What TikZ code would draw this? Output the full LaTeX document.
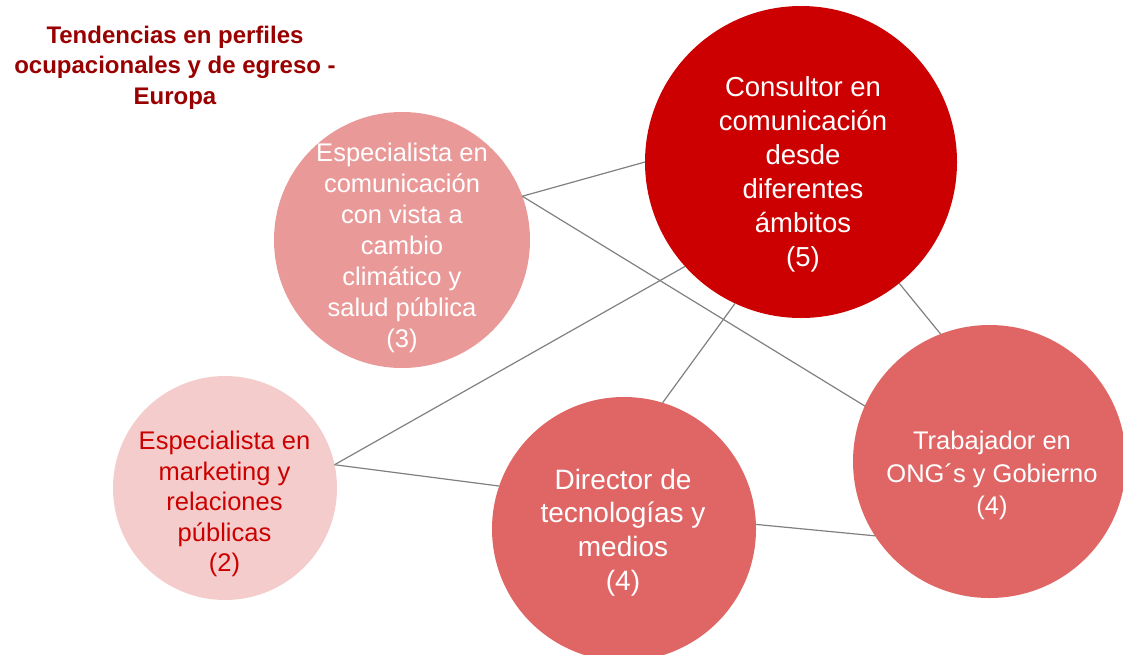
\documentclass[tikz,border=0pt]{standalone}
\usepackage{fontspec}
\setmainfont{Liberation Sans}
\definecolor{conred}{HTML}{CC0000}
\definecolor{compink}{HTML}{EA9999}
\definecolor{mkpink}{HTML}{F4CCCC}
\definecolor{midred}{HTML}{E06666}
\definecolor{titlered}{HTML}{990000}
\definecolor{linegray}{HTML}{808080}
\begin{document}
\begin{tikzpicture}[x=1pt,y=-1pt,
  bubble/.style={circle, inner sep=0pt, outer sep=0pt, minimum size=#1},
  link/.style={draw=linegray, line width=1.2pt},
  txt/.style={align=center, inner sep=0pt, text=white},
  bigfont/.style={font=\fontsize{27.5}{34}\selectfont},
  smallfont/.style={font=\fontsize{25.5}{31}\selectfont}]
\useasboundingbox (0,0) rectangle (1123,654);
% circles
\node[bubble=312pt, fill=conred] (con) at (801,162) {};
\node[bubble=256pt, fill=compink] (com) at (402,240) {};
\node[bubble=224pt, fill=mkpink] (mk) at (225,488) {};
\node[bubble=264pt, fill=midred] (dir) at (624,529) {};
\node[bubble=273pt, fill=midred] (tra) at (989.5,461.5) {};
% connectors
\draw[link] (com.20.6) -- (con.180.4);
\draw[link] (com.20.6) -- (tra.156.4);
\draw[link] (mk.12.8) -- (con.222.5);
\draw[link] (mk.12.8) -- (dir.161.6);
\draw[link] (dir.73.2) -- (con.245.5);
\draw[link] (dir.2.6) -- (tra.213.1);
\draw[link] (con.309.6) -- (tra.111.6);
% texts
\node[txt, bigfont] (conT) at (803,174) {Consultor en\\comunicación\\desde\\diferentes\\ámbitos\\(5)};
\node[txt, smallfont] (comT) at (402,247.5) {Especialista en\\comunicación\\con vista a\\cambio\\climático y\\salud pública\\(3)};
\node[txt, font=\fontsize{25.5}{30.5}\selectfont, text=conred] (mkT) at (224.5,504) {Especialista en\\marketing y\\relaciones\\públicas\\(2)};
\node[txt, font=\fontsize{28}{33.7}\selectfont] (dirT) at (623,532.5) {Director de\\tecnologías y\\medios\\(4)};
\node[txt, font=\fontsize{25.5}{32.5}\selectfont] (traT) at (992,475.5) {Trabajador en\\ONG´s y Gobierno\\(4)};
\node[align=center, inner sep=0pt, text=titlered, font=\fontsize{24}{30.5}\selectfont\bfseries] (title) at (175,67.5) {Tendencias en perfiles\\ocupacionales y de egreso -\\Europa};
\end{tikzpicture}
\end{document}
